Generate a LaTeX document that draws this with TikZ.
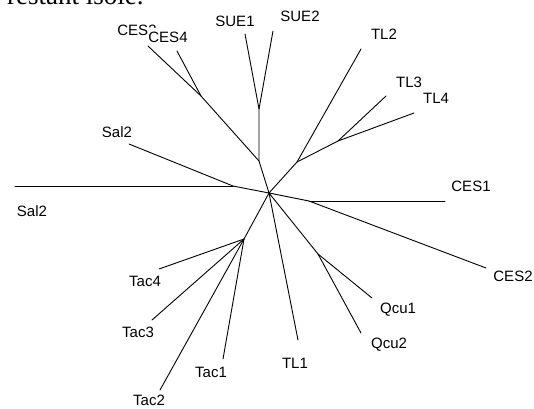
\documentclass[tikz,border=0pt]{standalone}
\usepackage{fontspec}
\setmainfont{Liberation Sans}
\newfontfamily\serifface{Liberation Serif}
\begin{document}
\begin{tikzpicture}[x=1pt,y=-1pt,
  branch/.style={line width=0.9pt, line join=round, line cap=round},
  lbl/.style={font=\fontsize{15}{15}\selectfont, inner sep=0pt, anchor=base}]
\useasboundingbox (0,0) rectangle (534,408);
\clip (0,0) rectangle (534,408);

% line of running text cut off at the top
\node[font=\serifface\fontsize{27}{27}\selectfont, anchor=base west, inner sep=0pt]
  (caption) at (7,4.5) {restant isolé.};

% leaf labels
\node[lbl] (lCESthree) at (137,35) {CES3};
\node[lbl, fill=white, inner ysep=3.6pt, inner xsep=0.6pt] (lCESfour) at (168,42.5) {CES4};
\node[lbl] (lSUEone) at (235,26) {SUE1};
\node[lbl] (lSUEtwo) at (300,21) {SUE2};
\node[lbl] (lTLtwo) at (384,39) {TL2};
\node[lbl] (lTLthree) at (409,87) {TL3};
\node[lbl] (lTLfour) at (436,103) {TL4};
\node[lbl] (lSalup) at (117,137) {Sal2};
\node[lbl] (lSallow) at (32,216) {Sal2};
\node[lbl] (lCESone) at (471,191) {CES1};
\node[lbl] (lCEStwo) at (513,281) {CES2};
\node[lbl] (lTacfour) at (145,286) {Tac4};
\node[lbl] (lTacthree) at (138,337) {Tac3};
\node[lbl] (lTactwo) at (149,405.5) {Tac2};
\node[lbl] (lTacone) at (211,377) {Tac1};
\node[lbl] (lTLone) at (295,368) {TL1};
\node[lbl] (lQcuone) at (398,313) {Qcu1};
\node[lbl] (lQcutwo) at (389,348) {Qcu2};

% internal vertices of the tree
\coordinate (c) at (269,193);
\coordinate (a) at (233,186);
\coordinate (b) at (309,201);
\coordinate (d) at (259,161);
\coordinate (e) at (259,109);
\coordinate (f) at (201,96);
\coordinate (g) at (297,162);
\coordinate (h) at (338,141);
\coordinate (i) at (244,239);
\coordinate (j) at (318,254);

% leaf ends
\coordinate (sala) at (129,144);
\coordinate (salb) at (15,186);
\coordinate (cesone) at (445,201);
\coordinate (cestwo) at (486,268);
\coordinate (cesthree) at (148,46);
\coordinate (cesfour) at (177,51);
\coordinate (sueone) at (245,34);
\coordinate (suetwo) at (273,31);
\coordinate (tltwo) at (361,49);
\coordinate (tlthree) at (386,96);
\coordinate (tlfour) at (414,113);
\coordinate (tacfour) at (159,269);
\coordinate (tacthree) at (152,320);
\coordinate (tactwo) at (160,390);
\coordinate (tacone) at (223,359);
\coordinate (tlone) at (298,340);
\coordinate (qcuone) at (372,298);
\coordinate (qcutwo) at (361,333);

% branches
\draw[branch] (sala) -- (a) -- (c);
\draw[branch] (salb) -- (a);
\draw[branch] (c) -- (b) -- (cestwo);
\draw[branch] (b) -- (cesone);
\draw[branch] (c) -- (d) -- (f) -- (cesthree);
\draw[branch] (f) -- (cesfour);
\draw[branch] (d) -- (e) -- (sueone);
\draw[branch] (e) -- (suetwo);
\draw[branch] (c) -- (g) -- (tltwo);
\draw[branch] (g) -- (h) -- (tlthree);
\draw[branch] (h) -- (tlfour);
\draw[branch] (c) -- (i) -- (tacfour);
\draw[branch] (i) -- (tacthree);
\draw[branch] (i) -- (tactwo);
\draw[branch] (i) -- (tacone);
\draw[branch] (c) -- (tlone);
\draw[branch] (c) -- (j) -- (qcuone);
\draw[branch] (j) -- (qcutwo);
\end{tikzpicture}
\end{document}
